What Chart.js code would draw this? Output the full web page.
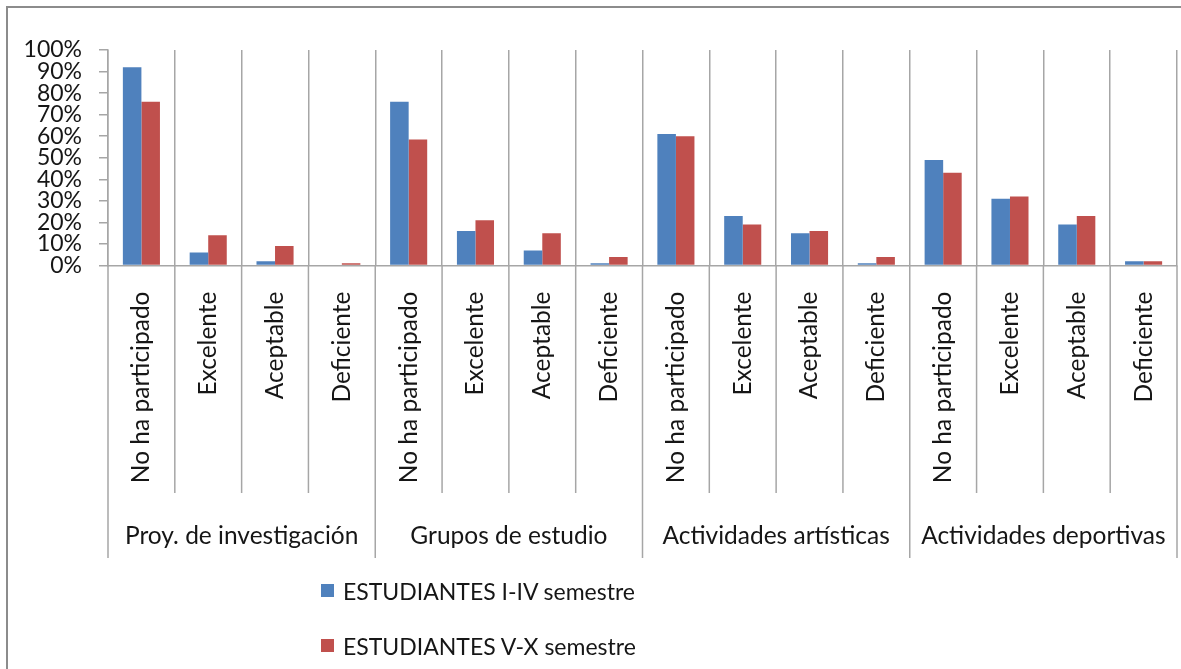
<!DOCTYPE html>
<html>
<head>
<meta charset="utf-8">
<script src="https://cdn.jsdelivr.net/npm/chart.js@4"></script>
<style>
    html, body { margin: 0; padding: 0; background: #fff; overflow: hidden; }
    #wrap { position: relative; width: 1181px; height: 669px; }
    #frame {
        position: absolute; left: 6px; top: 6px; width: 1300px; height: 800px;
        border-top: 2px solid #8c8c8c; border-left: 2px solid #8c8c8c;
    }
    #graph { position: absolute; left: 0; top: 0; }
    #legend { position: absolute; left: 321px; top: 563px; font: 23px Lato, sans-serif; color: #161616; }
    #legend .item { height: 55px; display: flex; align-items: center; }
    #legend .box { width: 13px; height: 13px; margin-right: 9px; }
</style>
</head>
<body>
<div id="wrap">
    <div id="frame"></div>
    <canvas id="graph" width="1181" height="669"></canvas>
    <div id="legend"></div>
</div>
<script>
const groups = ['Proy. de investigación', 'Grupos de estudio', 'Actividades artísticas', 'Actividades deportivas'];
const ratings = ['No ha participado', 'Excelente', 'Aceptable', 'Deficiente'];
const seriesNames = ['ESTUDIANTES I-IV semestre', 'ESTUDIANTES V-X semestre'];
const firstYears = [92, 6, 2, 0, 76, 16, 7, 1, 61, 23, 15, 1, 49, 31, 19, 2];
const lastYears = [76, 14, 9, 1, 58.5, 21, 15, 4, 60, 19, 16, 4, 43, 32, 23, 2];
const colors = ['#4f81bd', '#c0504d'];

const labels = groups.flatMap(() => ratings);
const gridColor = '#a6a6a6';
const textColor = '#161616';

// vertical separators below the plot area, long ones between groups
const separators = {
    id: 'separators',
    afterDraw(chart) {
        const x = chart.scales.x, x2 = chart.scales.x2, ctx = chart.ctx;
        ctx.save();
        ctx.strokeStyle = gridColor;
        ctx.lineWidth = 1.5;
        for (let i = 0; i <= labels.length; i++) {
            const px = x.getPixelForValue(i - 0.5);
            const end = i % ratings.length === 0 ? x2.bottom : x.bottom;
            ctx.beginPath();
            ctx.moveTo(px, x.top);
            ctx.lineTo(px, end);
            ctx.stroke();
        }
        ctx.restore();
    },
};

const noSidePadding = s => { s.paddingLeft = 0; s.paddingRight = 0; };

const graph = new Chart('graph', {
    type: 'bar',

    data: {
        labels: labels,
        datasets: [firstYears, lastYears].map((d, i) => ({
            label: seriesNames[i],
            data: d,
            backgroundColor: colors[i],
            borderWidth: 0,
            barPercentage: 1,
            categoryPercentage: 0.555,
        })),
    },

    options: {
        responsive: false,
        animation: false,
        layout: {
            padding: { top: 50, right: 4, left: 0, bottom: 111 },
        },

        plugins: {
            legend: { display: false },
            tooltip: { enabled: false },
        },

        scales: {
            x: {
                weight: 0,
                offset: true,
                grid: { offset: true, color: gridColor, lineWidth: 1.5, drawTicks: false },
                border: { color: gridColor, width: 1.5 },
                ticks: {
                    autoSkip: false,
                    maxRotation: 90,
                    minRotation: 90,
                    padding: 26,
                    color: textColor,
                    font: { family: 'Lato', size: 24.5 },
                },
                afterFit: s => { s.height = 227.5; noSidePadding(s); },
            },

            x2: {
                type: 'category',
                labels: groups,
                position: 'bottom',
                weight: 1,
                offset: true,
                grid: { display: false, drawTicks: false },
                border: { display: false },
                ticks: {
                    autoSkip: false,
                    maxRotation: 0,
                    padding: 28,
                    color: textColor,
                    font: { family: 'Lato', size: 24.5 },
                },
                afterFit: s => { s.height = 65; noSidePadding(s); },
            },

            y: {
                min: 0,
                max: 100,
                grid: { drawOnChartArea: false, color: gridColor, lineWidth: 1.5, tickLength: 9 },
                border: { color: gridColor, width: 1.5 },
                ticks: {
                    stepSize: 10,
                    autoSkip: false,
                    padding: 17,
                    color: textColor,
                    font: { family: 'Lato', size: 23 },
                    callback: v => v + '%',
                },
                afterFit: s => { s.width = 108; },
            },
        },
    },

    plugins: [separators],
});

document.getElementById('legend').innerHTML = graph.data.datasets.map(d =>
    '<div class="item"><span class="box" style="background:' + d.backgroundColor +
    '"></span>' + d.label + '</div>').join('');
</script>
</body>
</html>
